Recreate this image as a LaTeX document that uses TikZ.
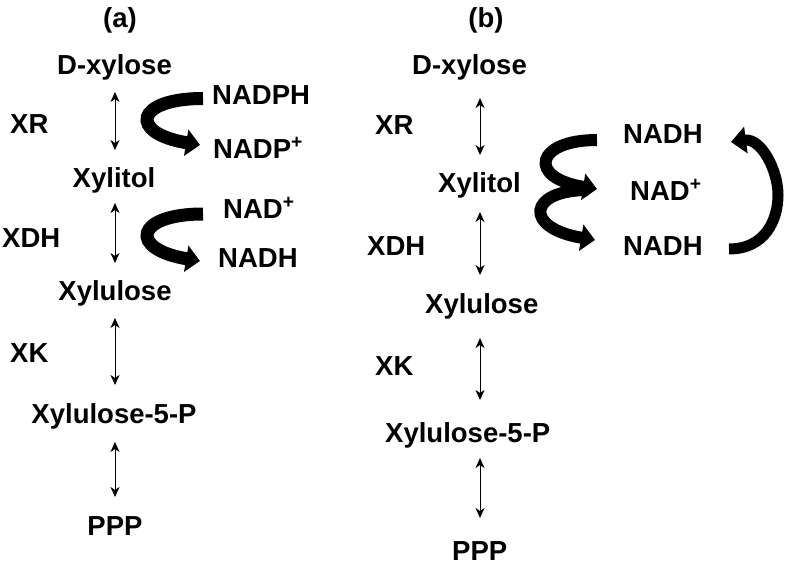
\documentclass[tikz,border=0pt]{standalone}
\usepackage{fontspec}
\setmainfont{Liberation Sans}
\usetikzlibrary{arrows.meta,calc}
\begin{document}
\begin{tikzpicture}[x=1pt,y=-1pt,
  lbl/.style={inner sep=0pt,font=\fontsize{27.5}{30}\selectfont\bfseries},
  dbl/.style={line width=0.9pt,{Stealth[length=10pt,width=9pt,inset=3pt]}-{Stealth[length=10pt,width=9pt,inset=3pt]}},
  bigarr/.style={line width=13pt,-{Triangle[length=14pt,width=26pt]}},
  ringarr/.style={line width=11pt,-{Triangle[length=15pt,width=26pt]}}]
\useasboundingbox (0,0) rectangle (786,567);
% ---------- (a) ----------
\node[lbl,anchor=base] (la) at (120,28) {(a)};
\node[lbl,anchor=base] (dxa) at (114.5,75) {D-xylose};
\node[lbl,anchor=base] (xta) at (114,187) {Xylitol};
\node[lbl,anchor=base] (xua) at (115,300) {Xylulose};
\node[lbl,anchor=base] (x5a) at (114,423) {Xylulose-5-P};
\node[lbl,anchor=base] (ppa) at (115,535) {PPP};
\node[lbl,anchor=base west] (xra) at (10,133) {XR};
\node[lbl,anchor=base west] (xda) at (2,247) {XDH};
\node[lbl,anchor=base west] (xka) at (10,362) {XK};
\node[lbl,anchor=base west] (nph) at (212,105) {NADPH};
\node[lbl,anchor=base west] (npp) at (213,158) {NADP\textsuperscript{+}};
\node[lbl,anchor=base west] (nap) at (223,218) {NAD\textsuperscript{+}};
\node[lbl,anchor=base west] (nha) at (218,267) {NADH};
\draw[dbl] ($(dxa.base)+(0.5,17)$) -- ($(xta.base)+(1,-37)$);
\draw[dbl] ($(xta.base)+(1,16)$) -- ($(xua.base)+(0,-37)$);
\draw[dbl] ($(xua.base)+(0,18)$) -- ($(x5a.base)+(1,-38)$);
\draw[dbl] ($(x5a.base)+(1,19)$) -- ($(ppa.base)+(0,-38)$);
\draw[bigarr] ($(nph.base west)+(-9,-6.5)$) .. controls +(-68,0) and +(-72,-12) .. ($(npp.base west)+(-13,-13)$);
\draw[bigarr] ($(nap.base west)+(-20,-4)$) .. controls +(-68,0) and +(-72,-12) .. ($(nha.base west)+(-18,-6)$);
% ---------- (b) ----------
\node[lbl,anchor=base] (lb) at (486,28) {(b)};
\node[lbl,anchor=base west] (dxb) at (412,75) {D-xylose};
\node[lbl,anchor=base west] (xtb) at (438,192) {Xylitol};
\node[lbl,anchor=base west] (xub) at (425,313) {Xylulose};
\node[lbl,anchor=base west] (x5b) at (385,442) {Xylulose-5-P};
\node[lbl,anchor=base west] (ppb) at (452,560) {PPP};
\node[lbl,anchor=base west] (xrb) at (375,135) {XR};
\node[lbl,anchor=base west] (xdb) at (367,255) {XDH};
\node[lbl,anchor=base west] (xkb) at (375,375) {XK};
\node[lbl,anchor=base west] (nh1) at (623,143) {NADH};
\node[lbl,anchor=base west] (nab) at (630,200) {NAD\textsuperscript{+}};
\node[lbl,anchor=base west] (nh2) at (623,255) {NADH};
\draw[dbl] ($(dxb.base west)+(68,23)$) -- ($(xtb.base west)+(42,-37)$);
\draw[dbl] ($(xtb.base west)+(42,20)$) -- ($(xub.base west)+(55,-38)$);
\draw[dbl] ($(xub.base west)+(55,25)$) -- ($(x5b.base west)+(95,-42)$);
\draw[dbl] ($(x5b.base west)+(95,16)$) -- ($(ppb.base west)+(28,-42)$);
\draw[bigarr,line width=12pt] ($(nh1.base west)+(-26,-3)$) .. controls +(-62,0) and +(-70,-11) .. ($(nab.base west)+(-33,-11)$);
\draw[bigarr,line width=12pt] ($(nab.base west)+(-42,-10)$) .. controls +(-60,0) and +(-72,-12) .. ($(nh2.base west)+(-28,-15)$);
\draw[ringarr] ($(nh2.base west)+(106,-6)$) .. controls +(36,0) and +(0,25) .. ($(nh2.base west)+(155,-60)$) .. controls +(0,-25) and +(30,-4) .. ($(nh1.base west)+(108,-1)$);
\end{tikzpicture}
\end{document}
